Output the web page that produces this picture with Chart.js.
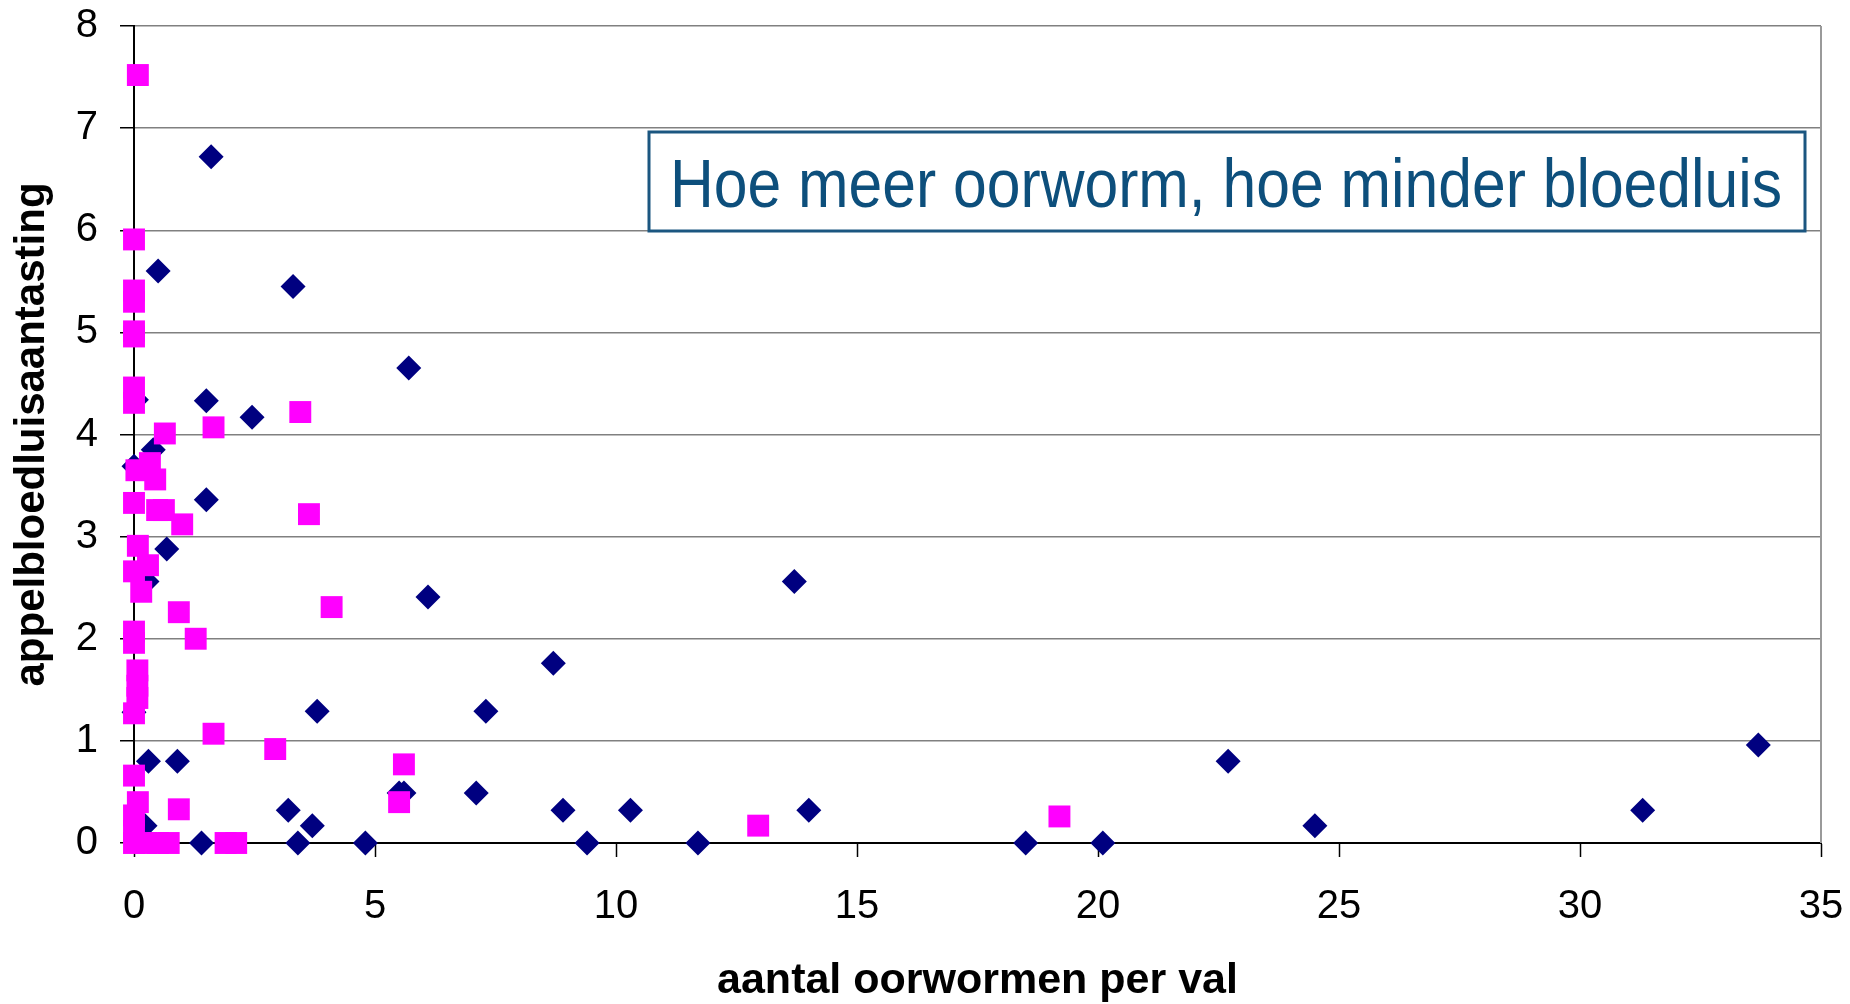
<!DOCTYPE html>
<html>
<head>
<meta charset="utf-8">
<title>Oorworm en bloedluis</title>
<script src="https://cdn.jsdelivr.net/npm/chart.js@4.4.1/dist/chart.umd.min.js"></script>
<style>
  html, body { margin: 0; padding: 0; background: #fff; }
  #wrap { width: 1850px; height: 1004px; }
</style>
</head>
<body>
<div id="wrap"><canvas id="scatterChart" width="1850" height="1004"></canvas></div>
<script>
// aantal oorwormen per val (x) en appelbloedluisaantasting (y)
const blueX = [1.6, 0.5, 3.3, 5.7, 0.05, 1.5, 2.45, 0.4, 0.0, 1.5, 0.68, 0.27, 13.7, 6.1, 8.7, 3.8, 7.3, 0.0,
               33.7, 0.3, 0.9, 22.7, 5.5, 5.6, 7.1, 3.2, 8.9, 10.3, 14.0, 31.3, 0.23, 3.7, 24.5,
               1.4, 3.4, 4.8, 9.4, 11.7, 18.5, 20.1];
const blueY = [6.72, 5.6, 5.45, 4.65, 4.34, 4.33, 4.17, 3.85, 3.69, 3.36, 2.88, 2.56, 2.56, 2.41, 1.76, 1.29, 1.29, 1.28,
               0.96, 0.8, 0.8, 0.8, 0.49, 0.49, 0.49, 0.32, 0.32, 0.32, 0.32, 0.32, 0.17, 0.17, 0.17,
               0, 0, 0, 0, 0, 0, 0];

const pinkX = [0.08, 0.0, 0.0, 0.0, 0.0, 0.0, 0.0, 0.0, 3.45, 1.65, 0.64, 0.33, 0.05, 0.44, 0.0, 0.48, 0.62, 3.63,
               1.0, 0.08, 0.29, 0.0, 0.15, 4.1, 0.93, 0.0, 1.28, 0.0, 0.07, 0.07, 0.07, 0.0, 1.65, 2.93,
               5.6, 0.0, 5.5, 0.08, 0.93, 0.0, 19.2, 12.95, 0.0, 0.0, 0.25, 0.5, 0.72, 1.9, 2.12];
const pinkY = [7.52, 5.91, 5.41, 5.30, 5.01, 4.96, 4.46, 4.31, 4.22, 4.07, 4.01, 3.72, 3.65, 3.56, 3.33, 3.26, 3.26, 3.22,
               3.12, 2.91, 2.72, 2.66, 2.46, 2.31, 2.26, 2.07, 2.0, 1.96, 1.69, 1.54, 1.42, 1.27, 1.07, 0.92,
               0.77, 0.66, 0.4, 0.4, 0.33, 0.27, 0.26, 0.17, 0.12, 0, 0, 0, 0, 0, 0];

const xTicks = [0, 5, 10, 15, 20, 25, 30, 35];
const yTicks = [0, 1, 2, 3, 4, 5, 6, 7, 8];

const boxText = 'Hoe meer oorworm, hoe minder bloedluis';

const toPoints = (xs, ys) => xs.map((x, i) => ({ x: x, y: ys[i] }));

const FONT = '"Liberation Sans", Arial, Helvetica, sans-serif';

// tekstkader rechtsboven + rechterrand van het plotvlak
const frameAndBox = {
  id: 'frameAndBox',
  afterDraw(chart) {
    const ctx = chart.ctx;
    const a = chart.chartArea;
    ctx.save();
    // rechterrand
    ctx.strokeStyle = '#9a9a9a';
    ctx.lineWidth = 2;
    ctx.beginPath();
    ctx.moveTo(a.right, a.top);
    ctx.lineTo(a.right, a.bottom);
    ctx.stroke();

    // kader met tekst
    const bx = a.left + 515, by = a.top + 106, bw = 1156, bh = 99;
    ctx.fillStyle = '#fff';
    ctx.fillRect(bx, by, bw, bh);
    ctx.strokeStyle = '#1b5680';
    ctx.lineWidth = 3;
    ctx.strokeRect(bx, by, bw, bh);

    ctx.font = '68px "Liberation Sans Narrow", "Liberation Sans", Arial, sans-serif';
    ctx.fillStyle = '#0d4f7c';
    ctx.textBaseline = 'alphabetic';
    const w = ctx.measureText(boxText).width;
    const target = 1112;
    ctx.translate(bx + 21, by + 75);
    ctx.scale(target / w, 1);
    ctx.fillText(boxText, 0, 0);
    ctx.restore();
  }
};

const ctx = document.getElementById('scatterChart').getContext('2d');
new Chart(ctx, {
  type: 'scatter',
  data: {
    datasets: [
      {
        label: 'roze',
        data: toPoints(pinkX, pinkY),
        pointStyle: 'rect',
        pointRadius: 15.5,
        pointBackgroundColor: '#ff00ff',
        pointBorderColor: '#ff00ff',
        pointBorderWidth: 0,
        clip: false,
        order: 0
      },
      {
        label: 'blauw',
        data: toPoints(blueX, blueY),
        pointStyle: 'rectRot',
        pointRadius: 12.5,
        pointBackgroundColor: '#000080',
        pointBorderColor: '#000080',
        pointBorderWidth: 0,
        clip: false,
        order: 1
      }
    ]
  },
  options: {
    responsive: false,
    animation: false,
    layout: { padding: { top: 26, right: 29, left: 0, bottom: 0 } },
    plugins: {
      legend: { display: false },
      tooltip: { enabled: false }
    },
    scales: {
      x: {
        type: 'linear',
        min: 0,
        max: 35,
        afterBuildTicks: s => { s.ticks = xTicks.map(v => ({ value: v })); },
        ticks: { color: '#000', font: { family: FONT, size: 40 }, padding: 26, maxRotation: 0 },
        grid: { drawOnChartArea: false, tickLength: 14, tickColor: '#000', tickWidth: 1.5 },
        border: { color: '#000', width: 2 },
        title: {
          display: true,
          text: 'aantal oorwormen per val',
          color: '#000',
          font: { family: FONT, size: 43, weight: 'bold' },
          padding: { top: 0, bottom: -3 }
        },
        afterFit: s => {
          s.height = 161;
          s.paddingLeft = 0;
          s.paddingRight = 0;
        }
      },
      y: {
        type: 'linear',
        min: 0,
        max: 8,
        afterBuildTicks: s => { s.ticks = yTicks.map(v => ({ value: v })); },
        ticks: { color: '#000', font: { family: FONT, size: 40 }, padding: 22 },
        grid: { color: '#808080', lineWidth: 1.5, tickLength: 14, tickColor: '#000', tickWidth: 1.5 },
        border: { color: '#000', width: 2 },
        title: {
          display: true,
          text: 'appelbloedluisaantasting',
          color: '#000',
          font: { family: FONT, size: 42, weight: 'bold' },
          padding: { top: 7, bottom: 0 }
        },
        afterFit: s => {
          s.width = 134;
          s.paddingTop = 0;
          s.paddingBottom = 0;
        }
      }
    }
  },
  plugins: [frameAndBox]
});
</script>
</body>
</html>
